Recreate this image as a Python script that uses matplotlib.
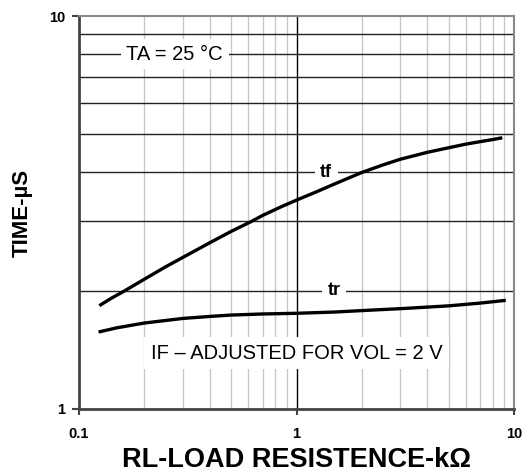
import numpy as np
import matplotlib.pyplot as plt
from matplotlib.ticker import FixedLocator, NullFormatter

plt.rcParams['font.family'] = ['Liberation Sans', 'DejaVu Sans']

# curve data (RL in kOhm, time in us)
rl_tf = [0.124, 0.14, 0.16, 0.2, 0.25, 0.3, 0.4, 0.5, 0.62, 0.7, 0.85, 1.0,
         1.25, 1.5, 2.0, 2.5, 3.0, 4.0, 5.0, 6.0, 7.0, 8.0, 8.84]
t_tf = [1.832, 1.91, 1.99, 2.14, 2.30, 2.43, 2.65, 2.83, 3.0, 3.11, 3.27, 3.40,
        3.58, 3.74, 4.0, 4.18, 4.32, 4.50, 4.62, 4.72, 4.79, 4.85, 4.90]

rl_tr = [0.123, 0.15, 0.2, 0.3, 0.4, 0.5, 0.7, 1.0, 1.5, 2.0, 3.0, 5.0, 7.0, 9.16]
t_tr = [1.57, 1.61, 1.655, 1.70, 1.72, 1.734, 1.745, 1.752, 1.765, 1.78, 1.80, 1.83, 1.86, 1.89]

x_ticks = [0.1, 1, 10]
y_ticks = [1, 10]

fig = plt.figure(figsize=(5.22, 4.76), dpi=100)
ax = fig.add_axes([79 / 522, 67 / 476, 435 / 522, 393 / 476])
ax.set_xscale('log')
ax.set_yscale('log')
ax.set_xlim(0.1, 10)
ax.set_ylim(1, 10)

# grid: light grey verticals, black horizontals, black line at x = 1
minor_x = [m * d for d in (0.1, 1) for m in range(2, 10)]
for xv in minor_x:
    ax.axvline(xv, color='#c8c8c8', lw=1.0, zorder=1)
ax.axvline(1, color='black', lw=1.0, zorder=1)
for yv in range(2, 10):
    ax.axhline(yv, color='#222222', lw=1.0, zorder=1)

ax.plot(rl_tf, t_tf, color='black', lw=2.4, zorder=3, solid_capstyle='butt')
ax.plot(rl_tr, t_tr, color='black', lw=2.4, zorder=3, solid_capstyle='butt')

ax.xaxis.set_major_locator(FixedLocator(x_ticks))
ax.yaxis.set_major_locator(FixedLocator(y_ticks))
ax.xaxis.set_minor_locator(FixedLocator([]))
ax.yaxis.set_minor_locator(FixedLocator([]))
ax.xaxis.set_minor_formatter(NullFormatter())
ax.yaxis.set_minor_formatter(NullFormatter())
ax.set_xticklabels(['0.1', '1', '10'], fontsize=10.5, fontweight='bold')
ax.set_yticklabels(['1', '10'], fontsize=10.5, fontweight='bold')
ax.tick_params(axis='x', direction='out', length=4, width=1.5, color='#444444', pad=9)
ax.tick_params(axis='y', direction='out', length=5, width=1.5, color='#444444', pad=5)

for side in ('left', 'bottom'):
    ax.spines[side].set_color('#444444')
    ax.spines[side].set_linewidth(2.0)
for side in ('top', 'right'):
    ax.spines[side].set_color('#888888')
    ax.spines[side].set_linewidth(1.5)

box = dict(facecolor='white', edgecolor='none', pad=4)
ax.text(0.165, 8, 'TA = 25 °C', fontsize=14.5, ha='left', va='center', bbox=box, zorder=2)
ax.text(1.37, 4, 'tf', fontsize=13, fontweight='bold', ha='center', va='center', bbox=box, zorder=2)
ax.text(1.49, 2, 'tr', fontsize=13, fontweight='bold', ha='center', va='center', bbox=box, zorder=2)
ax.text(1.0, 1.388, 'IF – ADJUSTED FOR VOL = 2 V', fontsize=14.5, ha='center', va='center',
        bbox=dict(facecolor='white', edgecolor='none', pad=5), zorder=2)

ax.text(0.5, -0.13, 'RL-LOAD RESISTENCE-kΩ', transform=ax.transAxes, fontsize=19.5,
        fontweight='bold', ha='center', va='center')
ax.text(-0.131, 0.5, 'TIME-µS', transform=ax.transAxes, fontsize=16,
        fontweight='bold', ha='center', va='center', rotation=90)

fig.savefig('out.png', dpi=100)
